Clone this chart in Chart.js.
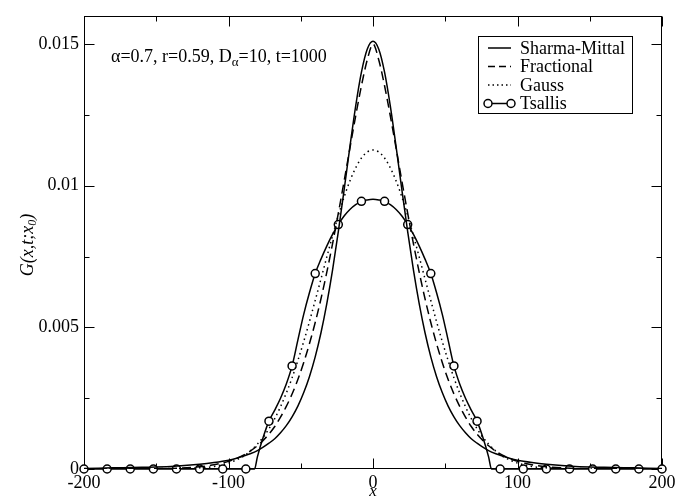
<!DOCTYPE html>
<html>
<head>
<meta charset="utf-8">
<script src="https://cdn.jsdelivr.net/npm/chart.js@4"></script>
<style>
  html, body { margin: 0; padding: 0; background: #fff; }
  canvas { display: block; }
</style>
</head>
<body>
<canvas id="chart" width="690" height="500"></canvas>
<script>
// x positions shared by the three smooth curves
const xGrid = [-200, -180, -160, -140, -120, -110, -100, -95, -90, -85, -80, -76, -72, -68, -64, -60, -56, -52, -48, -44, -40, -36, -32, -28, -24, -20, -16, -12, -8, -4,
  0, 4, 8, 12, 16, 20, 24, 28, 32, 36, 40, 44, 48, 52, 56, 60, 64, 68, 72, 76, 80, 85, 90, 95, 100, 110, 120, 140, 160, 180, 200];

const sharmaMittal = [0.00002, 0.00004, 0.00006, 0.00009, 0.00017, 0.00023, 0.00031, 0.00037, 0.00045, 0.00054, 0.00065, 0.00077, 0.00091, 0.00107, 0.00128, 0.00153, 0.00184, 0.00222, 0.00269, 0.00326, 0.00396, 0.00481, 0.00583, 0.00702, 0.00838, 0.00985, 0.01137, 0.01281, 0.01401, 0.01482,
  0.0151, 0.01482, 0.01401, 0.01281, 0.01137, 0.00985, 0.00838, 0.00702, 0.00583, 0.00481, 0.00396, 0.00326, 0.00269, 0.00222, 0.00184, 0.00153, 0.00128, 0.00107, 0.00091, 0.00077, 0.00065, 0.00054, 0.00045, 0.00037, 0.00031, 0.00023, 0.00017, 0.00009, 0.00006, 0.00004, 0.00002];

const fractional = [0, 0, 0.00001, 0.00002, 0.00008, 0.00015, 0.00027, 0.00036, 0.00048, 0.00063, 0.00082, 0.00101, 0.00123, 0.0015, 0.00183, 0.00221, 0.00265, 0.00316, 0.00375, 0.00442, 0.00517, 0.00601, 0.00694, 0.00795, 0.00903, 0.01016, 0.01132, 0.01246, 0.01353, 0.01444,
  0.015, 0.01444, 0.01353, 0.01246, 0.01132, 0.01016, 0.00903, 0.00795, 0.00694, 0.00601, 0.00517, 0.00442, 0.00375, 0.00316, 0.00265, 0.00221, 0.00183, 0.0015, 0.00123, 0.00101, 0.00082, 0.00063, 0.00048, 0.00036, 0.00027, 0.00015, 0.00008, 0.00002, 0.00001, 0, 0];

const gauss = [0, 0, 0, 0.00001, 0.00004, 0.00009, 0.00021, 0.00031, 0.00044, 0.00063, 0.00088, 0.00112, 0.00142, 0.00178, 0.0022, 0.00268, 0.00322, 0.00383, 0.00449, 0.0052, 0.00595, 0.00671, 0.00748, 0.00823, 0.00895, 0.0096, 0.01017, 0.01063, 0.01098, 0.01119,
  0.01126, 0.01119, 0.01098, 0.01063, 0.01017, 0.0096, 0.00895, 0.00823, 0.00748, 0.00671, 0.00595, 0.0052, 0.00449, 0.00383, 0.00322, 0.00268, 0.0022, 0.00178, 0.00142, 0.00112, 0.00088, 0.00063, 0.00044, 0.00031, 0.00021, 0.00009, 0.00004, 0.00001, 0, 0, 0];

// Tsallis curve has its own x positions (compact support)
const tsallisX = [-200, -184, -168, -152, -136, -120, -104, -88, -82, -80, -76, -72, -68, -64, -60, -56, -52, -48, -44, -40, -36, -32, -28, -24, -20, -16, -12, -8, -4,
  0, 4, 8, 12, 16, 20, 24, 28, 32, 36, 40, 44, 48, 52, 56, 60, 64, 68, 72, 76, 80, 82, 88, 104, 120, 136, 152, 168, 184, 200];
const tsallis = [0, 0, 0, 0, 0, 0, 0, 0, 0, 0.00043, 0.00112, 0.00169, 0.00208, 0.0025, 0.003, 0.00364, 0.00455, 0.00545, 0.00622, 0.0069, 0.00741, 0.00787, 0.00828, 0.00863, 0.00893, 0.00916, 0.00933, 0.00945, 0.0095,
  0.00952, 0.0095, 0.00945, 0.00933, 0.00916, 0.00893, 0.00863, 0.00828, 0.00787, 0.00741, 0.0069, 0.00622, 0.00545, 0.00455, 0.00364, 0.003, 0.0025, 0.00208, 0.00169, 0.00112, 0.00043, 0, 0, 0, 0, 0, 0, 0, 0, 0];
const tsallisMarks = [-200, -184, -168, -152, -136, -120, -104, -88, -72, -56, -40, -24, -8, 8, 24, 40, 56, 72, 88, 104, 120, 136, 152, 168, 184, 200];

const xTicks = [-200, -100, 0, 100, 200];
const yTicks = [0, 0.005, 0.01, 0.015];
const yTickLabels = ['0', '0.005', '0.01', '0.015'];

const seriesNames = ['Sharma-Mittal', 'Fractional', 'Gauss', 'Tsallis'];

const SERIF = "'Liberation Serif', 'Times New Roman', serif";
Chart.defaults.font.family = SERIF;
Chart.defaults.color = '#000';

const toPoints = (xs, ys) => xs.map((x, i) => ({ x: x, y: ys[i] }));
const nearly = (a, b) => Math.abs(a - b) < 1e-9;

const decorations = {
  id: 'decorations',
  beforeDatasetsDraw(chart) {
    const { ctx, chartArea: a, scales: { x, y } } = chart;
    const L = Math.round(a.left) + 0.5, R = Math.round(a.right) - 0.5;
    const T = Math.round(a.top) + 0.5, B = Math.round(a.bottom) - 0.5;
    ctx.save();
    ctx.strokeStyle = '#000';
    ctx.lineWidth = 1;
    ctx.strokeRect(L, T, R - L, B - T);
    ctx.beginPath();
    x.ticks.forEach(t => {
      const px = Math.round(x.getPixelForValue(t.value)) + 0.5;
      const len = xTicks.some(v => nearly(v, t.value)) ? 10 : 5;
      ctx.moveTo(px, B); ctx.lineTo(px, B - len);
      ctx.moveTo(px, T); ctx.lineTo(px, T + len);
    });
    y.ticks.forEach(t => {
      const py = Math.round(y.getPixelForValue(t.value)) + 0.5;
      const len = yTicks.some(v => nearly(v, t.value)) ? 10 : 5;
      ctx.moveTo(L, py); ctx.lineTo(L + len, py);
      ctx.moveTo(R, py); ctx.lineTo(R - len, py);
    });
    ctx.stroke();
    ctx.restore();
  },
  afterDraw(chart) {
    const { ctx, chartArea: a } = chart;
    ctx.save();
    ctx.fillStyle = '#000';
    ctx.strokeStyle = '#000';

    // axis titles
    ctx.font = 'italic 17px ' + SERIF;
    ctx.textAlign = 'center';
    ctx.textBaseline = 'middle';
    ctx.fillText('x', (a.left + a.right) / 2, 492);

    ctx.save();
    ctx.translate(28, 245);
    ctx.rotate(-Math.PI / 2);
    ctx.textAlign = 'left';
    const main = 'G(x,t;x', tail = ')';
    ctx.font = 'italic 18px ' + SERIF;
    const wMain = ctx.measureText(main).width;
    const wTail = ctx.measureText(tail).width;
    ctx.font = 'italic 12px ' + SERIF;
    const wSub = ctx.measureText('0').width;
    let sx = -(wMain + wSub + wTail) / 2;
    ctx.font = 'italic 18px ' + SERIF;
    ctx.fillText(main, sx, 0);
    sx += wMain;
    ctx.font = 'italic 12px ' + SERIF;
    ctx.fillText('0', sx, 5);
    sx += wSub;
    ctx.font = 'italic 18px ' + SERIF;
    ctx.fillText(tail, sx, 0);
    ctx.restore();

    // parameter annotation
    ctx.textAlign = 'left';
    ctx.textBaseline = 'alphabetic';
    ctx.font = '18px ' + SERIF;
    let tx = 111;
    const base = 62;
    const part1 = '\u03b1=0.7, r=0.59, D';
    ctx.fillText(part1, tx, base);
    tx += ctx.measureText(part1).width;
    ctx.font = '13px ' + SERIF;
    ctx.fillText('\u03b1', tx, base + 4);
    tx += ctx.measureText('\u03b1').width;
    ctx.font = '18px ' + SERIF;
    ctx.fillText('=10, t=1000', tx, base);

    // legend box
    ctx.lineWidth = 1;
    ctx.strokeRect(478.5, 36.5, 154, 77);
    const rows = [48, 66.5, 85, 103.5];
    const dashes = [[], [7, 4], [1.5, 3], []];
    ctx.font = '18px ' + SERIF;
    ctx.textBaseline = 'middle';
    seriesNames.forEach((name, i) => {
      const yy = rows[i];
      ctx.save();
      ctx.lineWidth = 1.5;
      ctx.setLineDash(dashes[i]);
      ctx.beginPath();
      ctx.moveTo(488, yy);
      ctx.lineTo(511, yy);
      ctx.stroke();
      ctx.restore();
      if (i === 3) {
        [488, 511].forEach(cx => {
          ctx.beginPath();
          ctx.arc(cx, yy, 4, 0, Math.PI * 2);
          ctx.fillStyle = '#fff';
          ctx.fill();
          ctx.lineWidth = 1.5;
          ctx.stroke();
        });
        ctx.fillStyle = '#000';
      }
      ctx.fillText(name, 520, yy + 1);
    });
    ctx.restore();
  }
};

new Chart(document.getElementById('chart'), {
  type: 'line',
  data: {
    datasets: [
      {
        label: seriesNames[0],
        data: toPoints(xGrid, sharmaMittal),
        borderColor: '#000',
        borderWidth: 1.5,
        pointRadius: 0,
        cubicInterpolationMode: 'monotone'
      },
      {
        label: seriesNames[1],
        data: toPoints(xGrid, fractional),
        borderColor: '#000',
        borderWidth: 1.5,
        borderDash: [9, 5],
        pointRadius: 0,
        cubicInterpolationMode: 'monotone'
      },
      {
        label: seriesNames[2],
        data: toPoints(xGrid, gauss),
        borderColor: '#000',
        borderWidth: 1.5,
        borderDash: [1.5, 3.5],
        pointRadius: 0,
        cubicInterpolationMode: 'monotone'
      },
      {
        label: seriesNames[3],
        data: toPoints(tsallisX, tsallis),
        borderColor: '#000',
        borderWidth: 1.5,
        backgroundColor: '#fff',
        pointBackgroundColor: '#fff',
        pointBorderColor: '#000',
        pointBorderWidth: 1.5,
        pointRadius: ctx => (ctx.raw && tsallisMarks.includes(ctx.raw.x)) ? 4 : 0,
        cubicInterpolationMode: 'monotone',
        clip: false
      }
    ]
  },
  options: {
    responsive: false,
    animation: false,
    devicePixelRatio: 1,
    layout: { padding: { top: 11, right: 28, left: 0, bottom: 0 } },
    plugins: {
      legend: { display: false },
      tooltip: { enabled: false }
    },
    scales: {
      x: {
        type: 'linear',
        min: -200,
        max: 200,
        afterFit: s => { s.height = 31; },
        grid: { display: false, drawTicks: false },
        border: { display: false },
        ticks: {
          stepSize: 50,
          padding: 3,
          autoSkip: false,
          maxRotation: 0,
          font: { size: 18 },
          callback: v => xTicks.includes(v) ? String(v) : ''
        }
      },
      y: {
        min: 0,
        max: 0.016,
        afterFit: s => { s.width = 84; },
        grid: { display: false, drawTicks: false },
        border: { display: false },
        ticks: {
          stepSize: 0.0025,
          includeBounds: false,
          padding: 5,
          autoSkip: false,
          font: { size: 18 },
          callback: v => {
            const i = yTicks.findIndex(t => nearly(t, v));
            return i >= 0 ? yTickLabels[i] : '';
          }
        }
      }
    }
  },
  plugins: [decorations]
});
</script>
</body>
</html>
